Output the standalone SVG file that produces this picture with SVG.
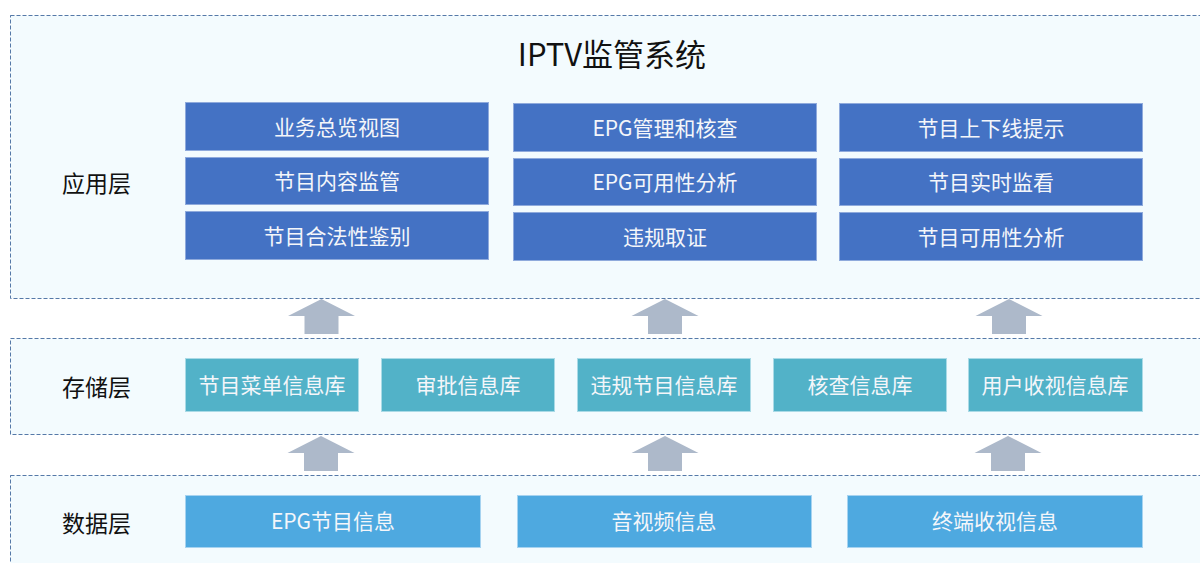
<svg xmlns="http://www.w3.org/2000/svg" width="1200" height="563" viewBox="0 0 1200 563">
  <style>
    .layer { fill: #F3FBFE; stroke: #5579A8; stroke-width: 1; stroke-dasharray: 4 2; }
    .app { fill: #4472C4; stroke: #8FAADC; stroke-width: 1; }
    .store { fill: #52B2C8; stroke: #A9DAE6; stroke-width: 1; }
    .data { fill: #4EA9E0; stroke: #A6D3F0; stroke-width: 1; }
    .lbl { font-family: "Noto Sans CJK SC", "Noto Sans", sans-serif; font-size: 21px; fill: #F4F6FA; text-anchor: middle; dominant-baseline: central; }
    .layerName { font-family: "Noto Sans CJK SC", "Noto Sans", sans-serif; font-size: 23px; fill: #111111; dominant-baseline: central; }
    .title { font-family: "Noto Sans CJK SC", "Noto Sans", sans-serif; font-size: 31px; fill: #111111; text-anchor: middle; dominant-baseline: central; }
    .up { fill: #ADB9CA; }
  </style>
  <defs>
    <!-- block arrow pointing up, origin at its tip -->
    <path id="upArrow" d="M0 0 L33.5 17 L17 17 L17 35 L-17 35 L-17 17 L-33.5 17 Z"/>
  </defs>

  <rect width="1200" height="563" fill="#FFFFFF"/>

  <!-- application layer -->
  <g id="layer-app">
    <rect class="layer" x="10.5" y="15.5" width="1200" height="283"/>
    <text class="title" x="612" y="52">IPTV监管系统</text>
    <text class="layerName" x="62" y="182">应用层</text>
  </g>
  <g id="app-overview"><rect class="app" x="185.5" y="102.5" width="303" height="48"/><text class="lbl" x="337" y="126">业务总览视图</text></g>
  <g id="app-content"><rect class="app" x="185.5" y="157.5" width="303" height="47"/><text class="lbl" x="337" y="180">节目内容监管</text></g>
  <g id="app-legal"><rect class="app" x="185.5" y="211.5" width="303" height="48"/><text class="lbl" x="337" y="235">节目合法性鉴别</text></g>
  <g id="app-epg-check"><rect class="app" x="513.5" y="103.5" width="303" height="48"/><text class="lbl" x="665" y="127">EPG管理和核查</text></g>
  <g id="app-epg-avail"><rect class="app" x="513.5" y="158.5" width="303" height="47"/><text class="lbl" x="665" y="181">EPG可用性分析</text></g>
  <g id="app-evidence"><rect class="app" x="513.5" y="212.5" width="303" height="48"/><text class="lbl" x="665" y="236">违规取证</text></g>
  <g id="app-online"><rect class="app" x="839.5" y="103.5" width="303" height="48"/><text class="lbl" x="991" y="127">节目上下线提示</text></g>
  <g id="app-realtime"><rect class="app" x="839.5" y="158.5" width="303" height="47"/><text class="lbl" x="991" y="181">节目实时监看</text></g>
  <g id="app-avail"><rect class="app" x="839.5" y="212.5" width="303" height="48"/><text class="lbl" x="991" y="236">节目可用性分析</text></g>

  <!-- storage layer -->
  <g id="layer-store">
    <rect class="layer" x="10.5" y="338.5" width="1200" height="96"/>
    <text class="layerName" x="62" y="386">存储层</text>
  </g>
  <g id="db-menu"><rect class="store" x="185.5" y="358.5" width="173" height="53"/><text class="lbl" x="272" y="384">节目菜单信息库</text></g>
  <g id="db-approve"><rect class="store" x="381.5" y="358.5" width="173" height="53"/><text class="lbl" x="468" y="384">审批信息库</text></g>
  <g id="db-violation"><rect class="store" x="577.5" y="358.5" width="173" height="53"/><text class="lbl" x="664" y="384">违规节目信息库</text></g>
  <g id="db-check"><rect class="store" x="773.5" y="358.5" width="173" height="53"/><text class="lbl" x="860" y="384">核查信息库</text></g>
  <g id="db-viewing"><rect class="store" x="968.5" y="358.5" width="174" height="53"/><text class="lbl" x="1055" y="384">用户收视信息库</text></g>

  <!-- data layer -->
  <g id="layer-data">
    <rect class="layer" x="10.5" y="475.5" width="1200" height="100"/>
    <text class="layerName" x="62" y="522">数据层</text>
  </g>
  <g id="src-epg"><rect class="data" x="185.5" y="495.5" width="295" height="52"/><text class="lbl" x="333" y="520">EPG节目信息</text></g>
  <g id="src-av"><rect class="data" x="517.5" y="495.5" width="294" height="52"/><text class="lbl" x="664" y="520">音视频信息</text></g>
  <g id="src-terminal"><rect class="data" x="847.5" y="495.5" width="295" height="52"/><text class="lbl" x="995" y="520">终端收视信息</text></g>

  <!-- connectors between layers -->
  <g id="connectors" class="up">
    <use href="#upArrow" x="321.5" y="299"/>
    <use href="#upArrow" x="665" y="299"/>
    <use href="#upArrow" x="1009" y="299"/>
    <use href="#upArrow" x="321" y="436"/>
    <use href="#upArrow" x="665" y="436"/>
    <use href="#upArrow" x="1008" y="436"/>
  </g>
</svg>
